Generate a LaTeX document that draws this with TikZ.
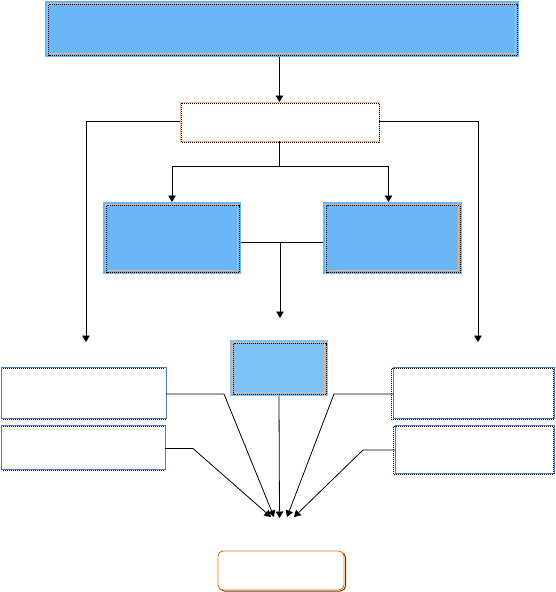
\documentclass[tikz,border=0pt]{standalone}
\usetikzlibrary{arrows.meta,calc}
\definecolor{skyb}{RGB}{106,183,248}
\definecolor{skyc}{RGB}{125,195,245}
\definecolor{peach}{RGB}{244,177,131}
\definecolor{steel}{RGB}{74,126,187}
\definecolor{rust}{RGB}{228,108,10}
\definecolor{darkbrown}{RGB}{110,55,10}
\begin{document}
\begin{tikzpicture}[x=1pt,y=-1pt,
  base/.style={inner sep=0pt, outer sep=0pt, anchor=north west},
  bluebox/.style={base, fill=skyb, draw=none},
  whitebox/.style={base, fill=white, draw=steel, line width=0.9pt},
  peachbox/.style={base, fill=white, draw=peach, line width=0.9pt},
  endbox/.style={base, fill=white, draw=rust, line width=0.9pt, rounded corners=5pt},
  conn/.style={line width=0.8pt, black},
  arr/.style={conn, -{Triangle[length=6.5pt,width=7.5pt]}},
  dots/.style={line width=1pt, dash pattern=on 1pt off 1pt, black},
  inner/.style={peach, line width=0.7pt}
]
\useasboundingbox (0,0) rectangle (555,592);

% nodes
\node[bluebox, minimum width=474pt, minimum height=56pt] (top) at (45,1) {};
\node[peachbox, minimum width=199pt, minimum height=39pt] (wb) at (180,102) {};
\node[bluebox, minimum width=138pt, minimum height=72pt] (bl) at (103,202) {};
\node[bluebox, minimum width=139pt, minimum height=72pt] (br) at (323,202) {};
\node[bluebox, fill=skyc, minimum width=98pt, minimum height=56pt] (mid) at (230,340) {};
\node[whitebox, minimum width=165pt, minimum height=51pt] (l1) at (1,367) {};
\node[whitebox, minimum width=164pt, minimum height=44pt] (l2) at (1,425) {};
\node[whitebox, minimum width=161pt, minimum height=51pt] (r1) at (393,367) {};
\node[whitebox, minimum width=159pt, minimum height=48pt] (r2) at (395,425) {};
\draw[darkbrown, line width=1pt, rounded corners=5pt] (219.5,552.5) rectangle (345.5,591);
\node[endbox, minimum width=126pt, minimum height=39pt] (fin) at (218,551) {};

% inner frames of blue boxes
\foreach \n in {top,bl,br,mid}{
  \draw[inner] ([shift={(2.5pt,-2.5pt)}]\n.north west) rectangle ([shift={(-3.5pt,3.5pt)}]\n.south east);
  \draw[dots] ([shift={(3.5pt,-3.5pt)}]\n.north west) rectangle ([shift={(-1.8pt,1.8pt)}]\n.south east);
}
% dotted shadows
\draw[dots] ([shift={(1pt,-1pt)}]wb.north west) rectangle ([shift={(0.5pt,-1.5pt)}]wb.south east);
\draw[dots] ([shift={(2pt,-1.2pt)}]l1.north west) -- ([shift={(-1pt,-1.2pt)}]l1.north east);
\draw[dots] ([shift={(2pt,-1.8pt)}]l1.south west) -- ([shift={(0pt,-1.8pt)}]l1.south east);
\draw[dots] ([shift={(2pt,-1.2pt)}]l2.north west) -- ([shift={(-1pt,-1.2pt)}]l2.north east);
\draw[dots] ([shift={(2pt,-1.8pt)}]l2.south west) -- ([shift={(0pt,-1.8pt)}]l2.south east);
\draw[dots] ([shift={(-1.2pt,-1.5pt)}]r1.north west) rectangle ([shift={(-0.5pt,-1.5pt)}]r1.south east);
\draw[dots] ([shift={(-1.2pt,-1.5pt)}]r2.north west) rectangle ([shift={(-0.5pt,-1.5pt)}]r2.south east);

% coordinates
\coordinate (ldrop) at (86,342);
\coordinate (rdrop) at (478,342);
\coordinate (split) at (279.5,166);
\coordinate (mtip) at (280,318);
\coordinate (t0) at (271,517);
\coordinate (t1) at (274,517);
\coordinate (t2) at (279.5,518);
\coordinate (t3) at (287,517);
\coordinate (t4) at (294,517);

% connectors
\draw[arr] (wb.north |- top.south) -- (wb.north);
\draw[arr] (wb.west) -| (ldrop);
\draw[arr] (wb.east) -| (rdrop);
\draw[conn] (wb.south) -- (split);
\draw[arr] (split) -| (bl.north);
\draw[arr] (split) -| ([xshift=-4pt]br.north);
\draw[conn] ([yshift=-4pt]bl.east) -- ([yshift=-4pt]br.west);
\draw[arr] ([yshift=-4pt]bl.east -| mtip) -- (mtip);
\draw[arr] ([yshift=-1.5pt]l1.east) -- ++(58,0) -- (t1);
\draw[arr] ([yshift=-1.5pt]l2.east) -- ++(28,0) -- (t0);
\draw[arr] (mid.south) -- (t2);
\draw[arr] ([yshift=-1.5pt]r1.west) -- ++(-59,0) -- (t3);
\draw[arr] ([yshift=-1pt]r2.west) -- ++(-32,0) -- (t4);
\end{tikzpicture}
\end{document}
